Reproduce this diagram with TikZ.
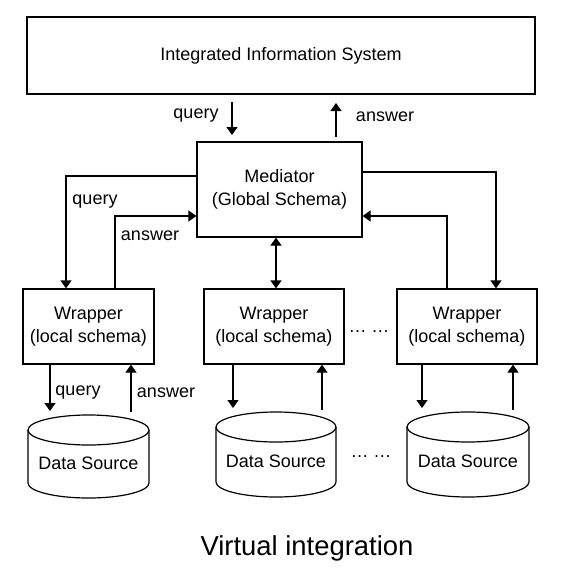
\documentclass[tikz,border=0pt]{standalone}
\usepackage{fontspec}
\setmainfont{Liberation Sans}
\usetikzlibrary{arrows.meta,calc}
\newcommand{\mycyl}[4]{%
 \draw[line] (#1,-#3-15) ellipse[x radius=#2, y radius=15];
 \draw[line] (#1-#2,-#3-15) -- (#1-#2,-#4+15) arc[start angle=180,end angle=360,x radius=#2,y radius=15] -- (#1+#2,-#3-15);}
\begin{document}
\begin{tikzpicture}[x=1pt,y=1pt,
 box/.style={draw, line width=1.2pt, inner sep=0pt, align=center, font=\fontsize{18}{23}\selectfont},
 lbl/.style={font=\fontsize{18}{22}\selectfont, inner sep=0pt},
 arr/.style={line width=1.2pt, -{Triangle[width=11pt,length=8pt]}},
 darr/.style={line width=1.2pt, {Triangle[width=11pt,length=8pt]}-{Triangle[width=11pt,length=8pt]}},
 line/.style={line width=1.2pt}]
\useasboundingbox (0,0) rectangle (577,-578);
\fill[white] (0,0) rectangle (577,-578);
% boxes
\node[box, minimum width=508pt, minimum height=77pt] (iis) at (281,-55.5) {Integrated Information System};
\node[box, minimum width=165pt, minimum height=95pt] (med) at (279.5,-189.5) {Mediator\\(Global Schema)};
\node[box, minimum width=131pt, minimum height=75pt] (w1) at (88.5,-326.5) {Wrapper\\(local schema)};
\node[box, minimum width=140pt, minimum height=75pt] (w2) at (274,-326.5) {Wrapper\\(local schema)};
\node[box, minimum width=140pt, minimum height=75pt] (w3) at (467,-326.5) {Wrapper\\(local schema)};
% cylinders
\mycyl{88.5}{60.5}{415}{498}
\mycyl{276}{60}{412}{497}
\mycyl{468}{61}{412}{497}
\node[lbl] (ds1) at (88.5,-463) {Data Source};
\node[lbl] (ds2) at (276,-461) {Data Source};
\node[lbl] (ds3) at (468,-461) {Data Source};
% top arrows
\coordinate (q0) at (232,-102);
\coordinate (q1) at (232,-135);
\coordinate (a0) at (336,-137);
\coordinate (a1) at (336,-103);
\draw[arr] (q0) -- (q1);
\draw[arr] (a0) -- (a1);
\node[lbl] (lq0) at (196,-116) {query};
\node[lbl] (la0) at (385,-117) {answer};
% mediator <-> wrappers
\draw[arr] ([yshift=13.5pt]med.west) -| ([xshift=-22.5pt]w1.north);
\draw[arr] ([xshift=26.5pt]w1.north) |- ([yshift=-26.5pt]med.west);
\draw[arr] ([yshift=17.5pt]med.east) -| ([xshift=29pt]w3.north);
\draw[arr] ([xshift=-20pt]w3.north) |- ([yshift=-26.5pt]med.east);
\draw[darr] (med.south -| 276,0) -- (w2.north -| 276,0);
\node[lbl] (lq1) at (95,-202) {query};
\node[lbl] (la1) at (150,-236) {answer};
% wrappers <-> sources
\coordinate (t1) at (0,-411);
\coordinate (s1) at (0,-412);
\coordinate (t2) at (0,-408);
\coordinate (s2) at (0,-410);
\draw[arr] ([xshift=-38.5pt]w1.south) -- ([xshift=-38.5pt]w1.south |- t1);
\draw[arr] ([xshift=42.5pt]w1.south |- s1) -- ([xshift=42.5pt]w1.south);
\draw[arr] ([xshift=-41pt]w2.south) -- ([xshift=-41pt]w2.south |- t2);
\draw[arr] ([xshift=48pt]w2.south |- s2) -- ([xshift=48pt]w2.south);
\draw[arr] ([xshift=-45pt]w3.south) -- ([xshift=-45pt]w3.south |- t2);
\draw[arr] ([xshift=46pt]w3.south |- s2) -- ([xshift=46pt]w3.south);
\node[lbl] (lq2) at (78,-393) {query};
\node[lbl] (la2) at (166,-393) {answer};
% dots
\node[lbl] (d1) at (369,-332) {… …};
\node[lbl] (d2) at (371,-457) {… …};
% title
\node[font=\fontsize{27.4}{30}\selectfont, inner sep=0pt] (title) at (307,-548) {Virtual integration};
\end{tikzpicture}
\end{document}
